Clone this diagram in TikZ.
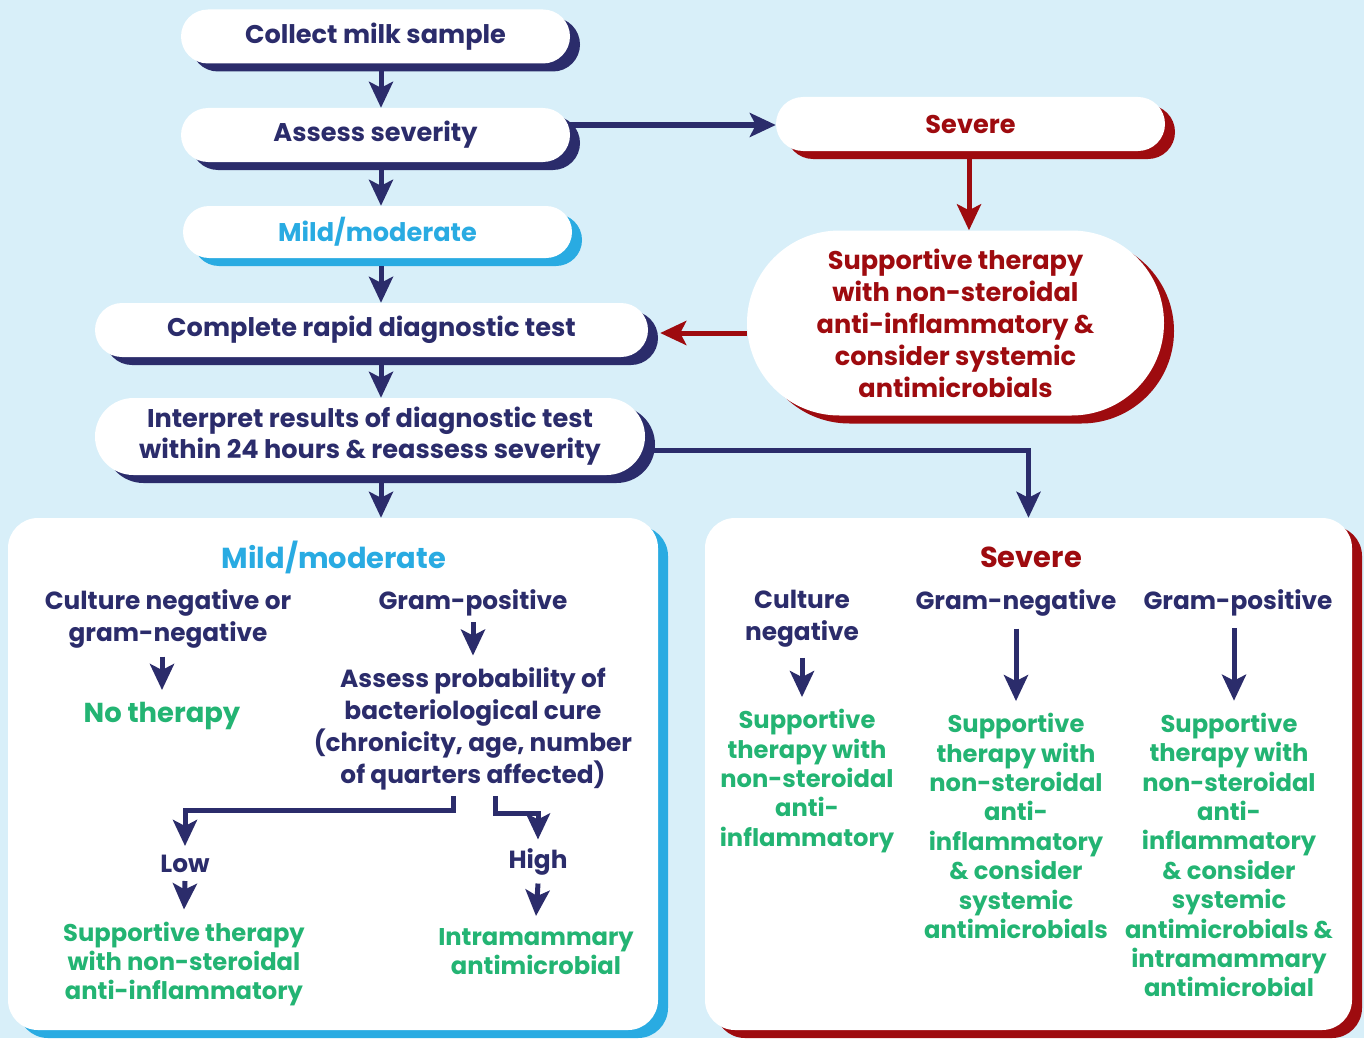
\documentclass[tikz,border=0pt]{standalone}
\usepackage{fontspec}
\setmainfont{Poppins}
\usetikzlibrary{shapes.misc,shadows,arrows.meta,calc}
\definecolor{bg}{RGB}{216,239,249}
\definecolor{navy}{RGB}{43,44,107}
\definecolor{sky}{RGB}{41,171,226}
\definecolor{dred}{RGB}{158,11,15}
\definecolor{grn}{RGB}{35,180,115}
\newcommand\myfs[2]{\fontsize{#1}{#2}\selectfont\bfseries}
\begin{document}
\begin{tikzpicture}[x=1pt,y=-1pt,
  pill/.style={rounded rectangle, fill=white, inner sep=0pt, align=center},
  navyshadow/.style={drop shadow={shadow xshift=10pt, shadow yshift=-8pt, fill=navy, opacity=1}},
  skyshadow/.style={drop shadow={shadow xshift=10pt, shadow yshift=-8pt, fill=sky, opacity=1}},
  redshadow/.style={drop shadow={shadow xshift=10pt, shadow yshift=-8pt, fill=dred, opacity=1}},
  panel/.style={rectangle, rounded corners=30pt, fill=white, inner sep=0pt},
  toptext/.style={font=\myfs{25.6}{31}},
  ptext/.style={inner sep=0pt, align=center, text=navy, font=\myfs{24.8}{32}},
  gtext/.style={inner sep=0pt, align=center, text=grn, font=\myfs{24.2}{29.4}},
  arr/.style={draw=navy, line width=5pt, -{Stealth[length=26pt,width=24pt,inset=6pt]}},
  rarr/.style={draw=dred, line width=5pt, -{Stealth[length=26pt,width=24pt,inset=6pt]}},
]
\fill[bg] (0,0) rectangle (1364,1038);
\useasboundingbox (0,0) rectangle (1364,1038);

% top boxes
\node[pill, navyshadow, toptext, text=navy, minimum width=389pt, minimum height=54pt] (collect) at (375.5,36.5) {Collect milk sample};
\node[pill, navyshadow, toptext, text=navy, minimum width=389pt, minimum height=54pt] (assess) at (375.5,135) {Assess severity};
\node[pill, skyshadow, toptext, text=sky, minimum width=389pt, minimum height=52pt] (mild) at (377.5,232) {Mild/moderate};
\node[pill, navyshadow, toptext, text=navy, minimum width=553pt, minimum height=54pt] (complete) at (371.5,330) {Complete rapid diagnostic test};
\node[pill, navyshadow, toptext, text=navy, minimum width=550pt, minimum height=77pt] (interp) at (370,436.5) {Interpret results of diagnostic test\\within 24 hours \& reassess severity};
\node[pill, redshadow, toptext, text=dred, minimum width=389pt, minimum height=54pt] (severe) at (970.5,124) {Severe};
\node[pill, redshadow, text=dred, font=\myfs{25.6}{32}, minimum width=417pt, minimum height=185pt] (supp) at (955.5,323) {Supportive therapy\\with non-steroidal\\anti-inflammatory \&\\consider systemic\\antimicrobials};

% panels
\node[panel, skyshadow, minimum width=650pt, minimum height=512pt] (lpanel) at (333,774) {};
\node[panel, redshadow, minimum width=647pt, minimum height=512pt] (rpanel) at (1028.5,774) {};

% top arrows
\draw[arr] ([xshift=5.5pt,yshift=-6pt]collect.south) -- ([xshift=5.5pt]collect.south |- assess.north);
\draw[arr] ([xshift=5.5pt,yshift=-6pt]assess.south) -- ([xshift=5.5pt]assess.south |- mild.north);
\draw[arr] ([xshift=3.5pt,yshift=-8pt]mild.south) -- ([xshift=3.5pt]mild.south |- complete.north);
\draw[arr] ([xshift=9.5pt,yshift=-6pt]complete.south) -- ([xshift=9.5pt]complete.south |- interp.north);
\draw[arr] ([xshift=11pt,yshift=-6pt]interp.south) -- ([xshift=11pt]interp.south |- lpanel.north);
\draw[arr] ([yshift=10pt]assess.east) -- ([yshift=10pt]assess.east -| severe.west);
\draw[rarr] ([xshift=-1.5pt,yshift=-8pt]severe.south) -- ([xshift=-1.5pt]severe.south |- supp.north);
\draw[rarr] ([yshift=-3pt]complete.east -| supp.west) -- ([xshift=12pt,yshift=-3pt]complete.east);
\draw[arr] ([yshift=-13.5pt]interp.east) -| (rpanel.north);

% left panel
\node[inner sep=0pt, text=sky, font=\myfs{28.9}{30}] (ltitle) at (334,557) {Mild/moderate};
\node[ptext] (cneg) at (168,619) {Culture negative or\\gram-negative};
\node[gtext, font=\myfs{27.4}{29}] (nother) at (162,716) {No therapy};
\node[ptext] (gpos) at (473,603) {Gram-positive};
\node[ptext] (aprob) at (473,729) {Assess probability of\\bacteriological cure\\(chronicity, age, number\\of quarters affected)};
\node[ptext] (low) at (185,864) {Low};
\node[ptext] (high) at (538,862) {High};
\node[gtext] (lowres) at (184,964) {Supportive therapy\\with non-steroidal\\anti-inflammatory};
\node[gtext] (highres) at (536,951.5) {Intramammary\\antimicrobial};

\draw[arr] (nother.north |- cneg.south) ++(0,8) -- ([yshift=12pt]nother.north);
\draw[arr] ([yshift=-6pt]gpos.south) -- ([yshift=12pt]aprob.north);
\draw[arr, line join=miter] ([xshift=-20pt,yshift=-6pt]aprob.south) -- ++(0,14) -| ([yshift=9pt]low.north);
\draw[arr, line join=miter] ([xshift=22pt,yshift=-6pt]aprob.south) -- ++(0,17) -| ([yshift=9pt]high.north);
\draw[arr] ([yshift=-8pt]low.south) -- ([yshift=12pt]lowres.north);
\draw[arr] ([yshift=-8pt]high.south) -- ([yshift=12pt]highres.north);

% right panel
\node[inner sep=0pt, text=dred, font=\myfs{28.9}{30}] (rtitle) at (1031,557) {Severe};
\node[ptext] (cn) at (802,619) {Culture\\negative};
\node[ptext] (gn) at (1016,603) {Gram-negative};
\node[ptext] (gp) at (1238,603) {Gram-positive};
\node[gtext] (r1) at (807,781) {Supportive\\therapy with\\non-steroidal\\anti-\\inflammatory};
\node[gtext] (r2) at (1016,826) {Supportive\\therapy with\\non-steroidal\\anti-\\inflammatory\\\& consider\\systemic\\antimicrobials};
\node[gtext] (r3) at (1229,855) {Supportive\\therapy with\\non-steroidal\\anti-\\inflammatory\\\& consider\\systemic\\antimicrobials \&\\intramammary\\antimicrobial};

\draw[arr] ([yshift=-10pt]cn.south) -- ([yshift=12pt]cn.south |- r1.north);
\draw[arr] ([yshift=-12pt]gn.south) -- ([yshift=12pt]gn.south |- r2.north);
\draw[arr] ([xshift=-4pt,yshift=-12pt]gp.south) -- ([xshift=-4pt,yshift=12pt]gp.south |- r3.north);
\end{tikzpicture}
\end{document}
